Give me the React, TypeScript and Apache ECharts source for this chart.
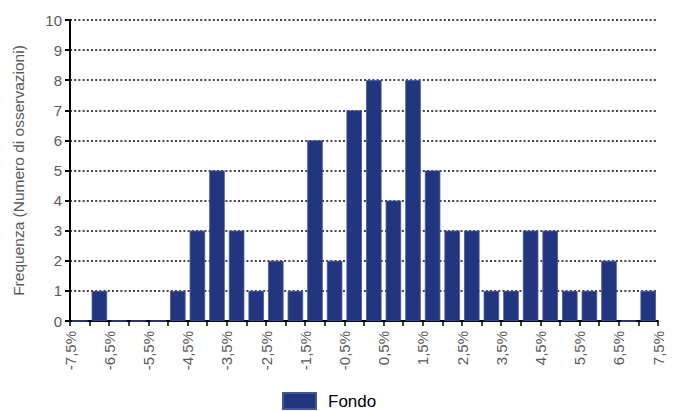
import React, { useEffect, useRef } from "react";
import * as echarts from "echarts";

const bins: string[] = [
  "-7,5%/-7,0%", "-7,0%/-6,5%", "-6,5%/-6,0%", "-6,0%/-5,5%", "-5,5%/-5,0%",
  "-5,0%/-4,5%", "-4,5%/-4,0%", "-4,0%/-3,5%", "-3,5%/-3,0%", "-3,0%/-2,5%",
  "-2,5%/-2,0%", "-2,0%/-1,5%", "-1,5%/-1,0%", "-1,0%/-0,5%", "-0,5%/0,0%",
  "0,0%/0,5%", "0,5%/1,0%", "1,0%/1,5%", "1,5%/2,0%", "2,0%/2,5%",
  "2,5%/3,0%", "3,0%/3,5%", "3,5%/4,0%", "4,0%/4,5%", "4,5%/5,0%",
  "5,0%/5,5%", "5,5%/6,0%", "6,0%/6,5%", "6,5%/7,0%", "7,0%/7,5%",
];
const fondo: number[] = [
  0, 1, 0, 0, 0, 1, 3, 5, 3, 1,
  2, 1, 6, 2, 7, 8, 4, 8, 5, 3,
  3, 1, 1, 3, 3, 1, 1, 2, 0, 1,
];
const tickLabels: string[] = [
  "-7,5%", "-6,5%", "-5,5%", "-4,5%", "-3,5%", "-2,5%", "-1,5%", "-0,5%",
  "0,5%", "1,5%", "2,5%", "3,5%", "4,5%", "5,5%", "6,5%", "7,5%",
];
const yTitle = "Frequenza (Numero di osservazioni)";
const seriesName = "Fondo";

export default function App() {
  const ref = useRef<HTMLDivElement>(null);
  useEffect(() => {
    if (!ref.current) return;
    const chart = echarts.init(ref.current, undefined, { renderer: "svg" });
    const font = "Liberation Sans, Arial, sans-serif";
    chart.setOption({
      animation: false,
      textStyle: { fontFamily: font },
      grid: { left: 70, right: 19, top: 20, bottom: 90, containLabel: false },
      legend: {
        data: [{ name: seriesName, icon: "rect" }],
        left: 282,
        top: 392,
        padding: 0,
        itemWidth: 33,
        itemHeight: 16,
        itemGap: 10,
        textStyle: { fontSize: 17, color: "#000", fontFamily: font, padding: [0, 0, 0, 7] },
      },
      xAxis: [
        { type: "category", data: bins, show: false },
        {
          type: "value",
          min: 0,
          max: 30,
          interval: 1,
          position: "bottom",
          axisLine: { show: true, onZero: false, lineStyle: { color: "#000", width: 2 } },
          axisTick: { show: true, length: 5, lineStyle: { color: "#000", width: 1.5 } },
          splitLine: { show: false },
          axisLabel: {
            rotate: 90,
            color: "#595959",
            fontSize: 15,
            fontFamily: font,
            margin: 10,
            formatter: (v: number) => (v % 2 === 0 ? tickLabels[v / 2] : ""),
          },
        },
      ],
      yAxis: {
        type: "value",
        min: 0,
        max: 10,
        interval: 1,
        name: yTitle,
        nameLocation: "middle",
        nameGap: 44,
        nameTextStyle: { color: "#595959", fontSize: 15.5, fontFamily: font },
        axisLine: { show: true, lineStyle: { color: "#000", width: 2 } },
        axisTick: { show: true, length: 5, lineStyle: { color: "#000", width: 2 } },
        axisLabel: { color: "#595959", fontSize: 15, fontFamily: font, margin: 8 },
        splitLine: { show: true, lineStyle: { color: "#444", width: 2.2, type: [2, 2.2] } },
      },
      series: [
        {
          name: seriesName,
          type: "bar",
          xAxisIndex: 0,
          data: fondo,
          barCategoryGap: "21%",
          itemStyle: { color: "#22357f", borderColor: "#4455a0", borderWidth: 0.8 },
        },
      ],
    });
    return () => chart.dispose();
  }, []);
  return <div ref={ref} style={{ width: 677, height: 411, position: "absolute", left: 0, top: 0 }} />;
}
